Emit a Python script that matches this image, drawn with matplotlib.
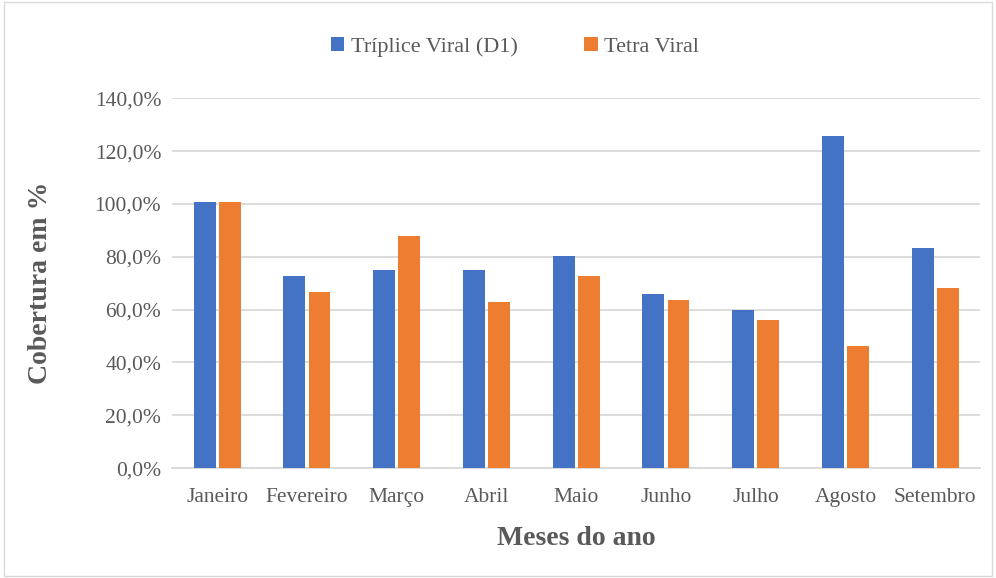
import matplotlib
matplotlib.use("Agg")
import matplotlib.pyplot as plt
import numpy as np
from matplotlib.patches import Rectangle

# Dados
meses = ['Janeiro', 'Fevereiro', 'Março', 'Abril', 'Maio', 'Junho', 'Julho', 'Agosto', 'Setembro']
triplice = [100.6, 72.6, 74.9, 75.0, 80.2, 65.8, 59.8, 125.6, 83.2]
tetra = [100.6, 66.6, 87.8, 62.8, 72.6, 63.6, 56.0, 46.2, 68.1]
yticks = [0, 20, 40, 60, 80, 100, 120, 140]

plt.rcParams['font.family'] = ['Liberation Serif', 'DejaVu Serif']
cinza = '#595959'

fig = plt.figure(figsize=(9.96, 5.78), dpi=100)
ax = fig.add_axes([0.173, 0.190, 0.811, 0.640])

x = np.arange(len(meses))
w = 0.245
ax.bar(x - 0.14, triplice, w, color='#4472C4', label='Tríplice Viral (D1)', zorder=3)
ax.bar(x + 0.14, tetra, w, color='#ED7D31', label='Tetra Viral', zorder=3)

ax.set_ylim(0, 140)
ax.set_xlim(-0.5, len(meses) - 0.5)
ax.set_yticks(yticks)
ax.set_yticklabels([f'{v:.1f}%'.replace('.', ',') for v in yticks])
ax.set_xticks(x)
ax.set_xticklabels(meses)
ax.tick_params(axis='both', length=0, labelsize=15.5, colors=cinza)
ax.tick_params(axis='x', pad=14)
ax.tick_params(axis='y', pad=8)
ax.grid(axis='y', color='#D9D9D9', linewidth=1.3, zorder=0)
for s in ['top', 'right', 'left']:
    ax.spines[s].set_visible(False)
ax.spines['bottom'].set_color('#D9D9D9')
ax.spines['bottom'].set_linewidth(1.3)

ax.set_xlabel('Meses do ano', fontsize=20, fontweight='bold', color=cinza, labelpad=14)
ax.set_ylabel('Cobertura em %', fontsize=20, fontweight='bold', color=cinza, labelpad=30)

fig.legend(loc='upper center', bbox_to_anchor=(0.517, 0.97), ncol=2, frameon=False,
           fontsize=16, handlelength=0.6, handleheight=0.6, handletextpad=0.3,
           columnspacing=3.0, labelcolor=cinza)

fig.patches.append(Rectangle((0.004, 0.004), 0.992, 0.992, transform=fig.transFigure,
                             fill=False, edgecolor='#D9D9D9', linewidth=1))

fig.savefig('out.png', dpi=100, facecolor='white')
